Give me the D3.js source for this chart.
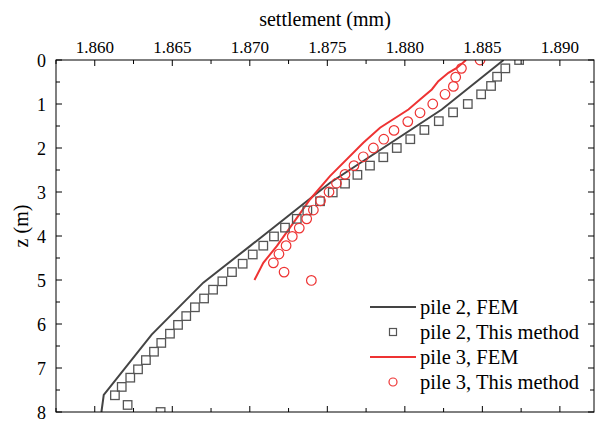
<!DOCTYPE html>
<html><head><meta charset="utf-8">
<script src="https://cdn.jsdelivr.net/npm/d3@7"></script>
<style>
body{margin:0;background:#fff}
</style>
</head><body>
<svg id="chart" width="599" height="421"></svg>
<script>
// ---- data ----
const xTickValues = [1.860, 1.865, 1.870, 1.875, 1.880, 1.885, 1.890];
const zTickValues = [0, 1, 2, 3, 4, 5, 6, 7, 8];

const pile2FemZ = [0, 1.125, 2.79, 4.23, 5.06, 6.24, 7.61, 8.0];
const pile2FemS = [1.88637, 1.88238, 1.87518, 1.87001, 1.86700, 1.86367, 1.86058, 1.86043];

const pile2MethodZ = [0,0.19,0.38,0.59,0.78,1.0,1.19,1.39,1.59,1.8,2.0,2.21,2.4,2.61,2.81,3.01,3.21,3.42,3.61,3.81,4.01,4.22,4.42,4.63,4.82,5.03,5.22,5.42,5.62,5.82,6.02,6.22,6.43,6.63,6.82,7.03,7.22,7.43,7.62,7.84,8.0];
const pile2MethodS = [1.88737,1.88648,1.88595,1.88556,1.88492,1.88406,1.88311,1.88219,1.88126,1.88035,1.87948,1.87861,1.87775,1.87694,1.87614,1.87535,1.87453,1.87371,1.87303,1.87227,1.87156,1.87087,1.87019,1.86954,1.86885,1.86823,1.86763,1.86705,1.86646,1.86590,1.86537,1.86485,1.86429,1.86382,1.86330,1.86279,1.86229,1.86174,1.86130,1.86212,1.86425];

const pile3FemZ = [0,0.18,0.29,0.48,0.67,0.9,1.125,1.54,1.88,2.64,3.17,3.7,4.23,4.61,5.0];
const pile3FemS = [1.88395,1.88335,1.88281,1.88216,1.88174,1.88098,1.88023,1.87840,1.87732,1.87517,1.87388,1.87281,1.87174,1.87087,1.87030];

const pile3MethodZ = [0,0.19,0.39,0.6,0.78,1.0,1.2,1.4,1.6,1.8,2.0,2.2,2.4,2.6,2.8,3.0,3.2,3.41,3.61,3.82,4.01,4.22,4.41,4.61,4.82,5.01];
const pile3MethodS = [1.88485,1.88365,1.88328,1.88313,1.88259,1.88180,1.88098,1.88019,1.87930,1.87864,1.87797,1.87732,1.87672,1.87614,1.87559,1.87511,1.87456,1.87410,1.87367,1.87319,1.87274,1.87234,1.87188,1.87152,1.87221,1.87397];

const legendLabels = ["pile 2, FEM", "pile 2, This method", "pile 3, FEM", "pile 3, This method"];

// ---- layout ----
const FONT = "'Liberation Serif', 'Times New Roman', serif";
const L = 56, R = 594, T = 60, B = 412;
const GRAY = "#444444", RED = "#ee3333";
const svg = d3.select("#chart");

const x = d3.scaleLinear().domain([1.8575, 1.8922]).range([L, R]);
const y = d3.scaleLinear().domain([0, 8]).range([T, B]);

svg.append("defs").append("clipPath").attr("id", "clip")
  .append("rect").attr("x", L).attr("y", T).attr("width", R - L).attr("height", B - T);

const plot = svg.append("g").attr("clip-path", "url(#clip)");

const line = d3.line().x(d => x(d[1])).y(d => y(d[0]));

plot.append("path").datum(d3.zip(pile2FemZ, pile2FemS))
  .attr("d", line).attr("fill", "none").attr("stroke", GRAY).attr("stroke-width", 2);
plot.append("path").datum(d3.zip(pile3FemZ, pile3FemS))
  .attr("d", line).attr("fill", "none").attr("stroke", RED).attr("stroke-width", 2);

const sq = 8.5;
plot.selectAll("rect.m2").data(d3.zip(pile2MethodZ, pile2MethodS)).enter().append("rect")
  .attr("class", "m2")
  .attr("x", d => x(d[1]) - sq / 2).attr("y", d => y(d[0]) - sq / 2)
  .attr("width", sq).attr("height", sq)
  .attr("fill", "none").attr("stroke", "#555").attr("stroke-width", 1.3);

plot.selectAll("circle.m3").data(d3.zip(pile3MethodZ, pile3MethodS)).enter().append("circle")
  .attr("class", "m3")
  .attr("cx", d => x(d[1])).attr("cy", d => y(d[0])).attr("r", 4.8)
  .attr("fill", "none").attr("stroke", RED).attr("stroke-width", 1.2);

// ---- axes frame ----
const ax = svg.append("g").attr("stroke", "#000").attr("stroke-width", 1);
ax.append("rect").attr("x", L).attr("y", T).attr("width", R - L).attr("height", B - T)
  .attr("fill", "none");

const xMinor = d3.range(1.8575, 1.8922, 0.0025).filter(v => !xTickValues.some(t => Math.abs(t - v) < 1e-6));
const zMinor = d3.range(0.5, 8, 1);

xTickValues.forEach(v => {
  ax.append("line").attr("x1", x(v)).attr("x2", x(v)).attr("y1", T).attr("y2", T + 6);
  ax.append("line").attr("x1", x(v)).attr("x2", x(v)).attr("y1", B).attr("y2", B - 6);
});
xMinor.forEach(v => {
  ax.append("line").attr("x1", x(v)).attr("x2", x(v)).attr("y1", T).attr("y2", T + 4);
  ax.append("line").attr("x1", x(v)).attr("x2", x(v)).attr("y1", B).attr("y2", B - 4);
});
zTickValues.forEach(v => {
  ax.append("line").attr("x1", L).attr("x2", L + 6).attr("y1", y(v)).attr("y2", y(v));
  ax.append("line").attr("x1", R).attr("x2", R - 6).attr("y1", y(v)).attr("y2", y(v));
});
zMinor.forEach(v => {
  ax.append("line").attr("x1", L).attr("x2", L + 4).attr("y1", y(v)).attr("y2", y(v));
  ax.append("line").attr("x1", R).attr("x2", R - 4).attr("y1", y(v)).attr("y2", y(v));
});

// tick labels
svg.selectAll("text.xt").data(xTickValues).enter().append("text")
  .attr("x", d => x(d)).attr("y", T - 7).attr("text-anchor", "middle")
  .attr("font-family", FONT).attr("font-size", 17).text(d => d3.format(".3f")(d));
svg.selectAll("text.zt").data(zTickValues).enter().append("text")
  .attr("x", L - 10).attr("y", d => y(d) + 6.5).attr("text-anchor", "end")
  .attr("font-family", FONT).attr("font-size", 18).text(d => d);

// axis titles
svg.append("text").attr("x", (L + R) / 2).attr("y", 26).attr("text-anchor", "middle")
  .attr("font-family", FONT).attr("font-size", 20).text("settlement (mm)");
svg.append("text").attr("transform", "translate(28,226) rotate(-90)")
  .attr("text-anchor", "middle").attr("font-family", FONT).attr("font-size", 20).text("z (m)");

// ---- legend ----
const lg = svg.append("g");
const rows = [307, 332, 357, 382];
lg.append("line").attr("x1", 370).attr("x2", 416).attr("y1", rows[0]).attr("y2", rows[0])
  .attr("stroke", GRAY).attr("stroke-width", 2);
lg.append("rect").attr("x", 393 - 3.5).attr("y", rows[1] - 3.5).attr("width", 7).attr("height", 7)
  .attr("fill", "none").attr("stroke", "#555").attr("stroke-width", 1.2);
lg.append("line").attr("x1", 370).attr("x2", 416).attr("y1", rows[2]).attr("y2", rows[2])
  .attr("stroke", RED).attr("stroke-width", 2);
lg.append("circle").attr("cx", 393).attr("cy", rows[3]).attr("r", 4)
  .attr("fill", "none").attr("stroke", RED).attr("stroke-width", 1.2);
lg.selectAll("text").data(legendLabels).enter().append("text")
  .attr("x", 420).attr("y", (d, i) => rows[i] + 7)
  .attr("font-family", FONT).attr("font-size", 20.5).text(d => d);
</script>
</body></html>
